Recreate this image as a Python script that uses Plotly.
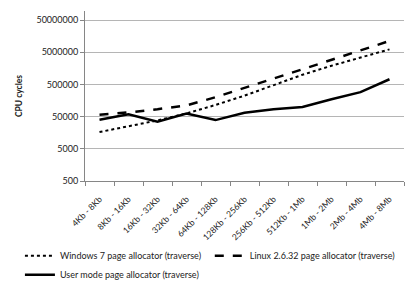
import plotly.graph_objects as go

categories = ["4Kb - 8Kb", "8Kb - 16Kb", "16Kb - 32Kb", "32Kb - 64Kb", "64Kb - 128Kb",
              "128Kb - 256Kb", "256Kb - 512Kb", "512Kb - 1Mb", "1Mb - 2Mb", "2Mb - 4Mb", "4Mb - 8Mb"]
windows7 = [16600, 25000, 38000, 63000, 115000, 224000, 480000, 1000000, 1900000, 3470000, 6150000]
linux = [57500, 67600, 85000, 112000, 200000, 398000, 760000, 1480000, 2880000, 5750000, 11200000]
usermode = [40000, 59000, 35000, 62000, 39000, 66000, 85000, 100000, 174000, 288000, 724000]
y_ticks = [500, 5000, 50000, 500000, 5000000, 50000000]

FONT = "Lato"

fig = go.Figure()
fig.add_trace(go.Scatter(x=categories, y=windows7, mode="lines",
                         name="Windows 7 page allocator (traverse)",
                         line=dict(color="black", width=2, dash="dot")))
fig.add_trace(go.Scatter(x=categories, y=linux, mode="lines",
                         name="Linux 2.6.32 page allocator (traverse)",
                         line=dict(color="black", width=2.5, dash="dash")))
fig.add_trace(go.Scatter(x=categories, y=usermode, mode="lines",
                         name="User mode page allocator (traverse)",
                         line=dict(color="black", width=2.5)))

fig.update_layout(
    width=415, height=291,
    margin=dict(l=85, r=11, t=11, b=110, autoexpand=False),
    paper_bgcolor="white", plot_bgcolor="white",
    font=dict(family=FONT, size=9, color="#222"),
    showlegend=True,
    legend=dict(orientation="h", x=-0.204, xref="paper", y=-0.355, yref="paper",
                xanchor="left", yanchor="top",
                font=dict(size=9, family=FONT), tracegroupgap=0,
                bgcolor="rgba(0,0,0,0)"),
)
fig.update_xaxes(type="category", showline=True, linecolor="#868686", linewidth=1,
                 ticks="outside", tickson="boundaries", ticklen=4, tickcolor="#868686",
                 tickangle=-45, tickfont=dict(size=8.5, family=FONT), showgrid=False,
                 ticklabelstandoff=9, range=[-0.5, 10.5], automargin=False)
fig.update_yaxes(type="log", range=[2.699, 7.98], tickvals=y_ticks,
                 ticktext=[str(v) for v in y_ticks],
                 showline=True, linecolor="#868686", linewidth=1,
                 ticks="outside", ticklen=4, tickcolor="#868686",
                 showgrid=True, gridcolor="#b5b5b5", gridwidth=1,
                 tickfont=dict(size=9, family=FONT), zeroline=False, automargin=False,
                 title=dict(text="<b>CPU cycles</b>", font=dict(size=8.5, family=FONT), standoff=12))

fig.write_html("out.html", config={"displayModeBar": False},
               post_script="document.body.style.margin='0';")
